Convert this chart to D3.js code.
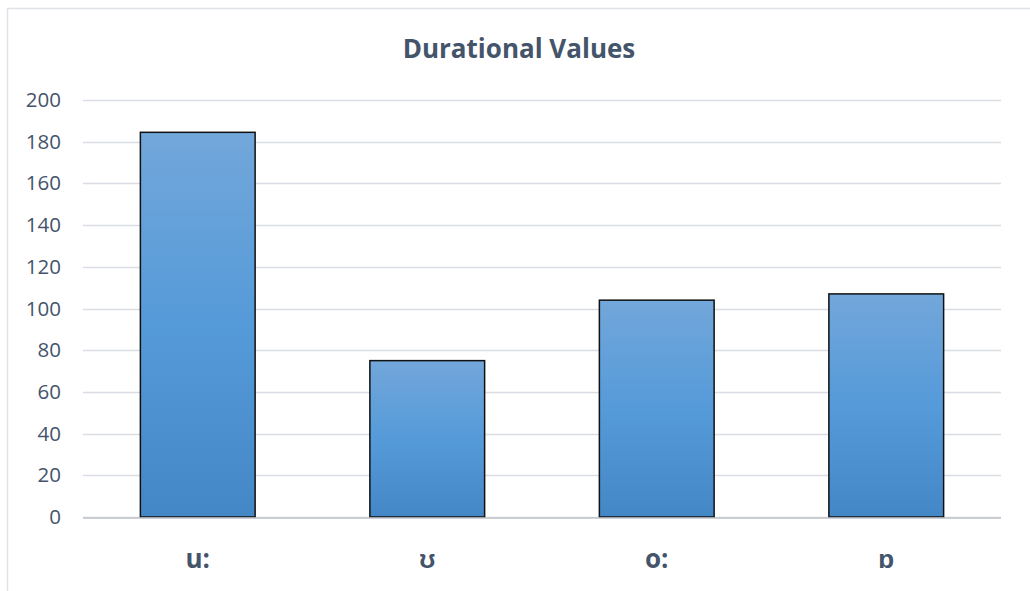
<!DOCTYPE html>
<html>
<head>
<meta charset="utf-8">
<script src="https://cdn.jsdelivr.net/npm/d3@7"></script>
<style>
  body { margin: 0; background: #fff; }
</style>
</head>
<body>
<svg id="chart" width="1030" height="591"></svg>
<script>
var categories = ["u:", "ʊ", "o:", "ɒ"];
var durations = [184.5, 75, 104, 107];
var yTickVals = [0, 20, 40, 60, 80, 100, 120, 140, 160, 180, 200];

var TXT_COL = "#44546a";
var GRID_COL = "#d9dde3";
var FONT = "'Open Sans', 'Liberation Sans', sans-serif";

var svg = d3.select("#chart");

// outer chart frame (cut off at right and bottom like the reference)
svg.append("path")
    .attr("d", "M7.5,600 L7.5,8.5 L1040,8.5")
    .attr("fill", "none")
    .attr("stroke", "#dfe3e8")
    .attr("stroke-width", 1.5);

var plotL = 83, plotR = 1001, plotT = 100, plotB = 517;

var x = d3.scaleBand()
    .domain(categories)
    .range([plotL, plotR])
    .paddingInner(0.5)
    .paddingOuter(0.25);

var y = d3.scaleLinear()
    .domain([0, 200])
    .range([plotB, plotT]);

// gridlines
svg.append("g")
    .selectAll("line")
    .data(yTickVals)
    .enter()
    .append("line")
    .attr("x1", plotL)
    .attr("x2", plotR)
    .attr("y1", d => Math.round(y(d)) + 0.5)
    .attr("y2", d => Math.round(y(d)) + 0.5)
    .attr("stroke", GRID_COL)
    .attr("stroke-width", 1.3);

// y tick labels
var yAxis = d3.axisLeft(y).tickValues(yTickVals).tickSize(0).tickPadding(0);
var gy = svg.append("g")
    .attr("transform", "translate(" + (plotL - 22) + ",0)")
    .call(yAxis);
gy.select(".domain").remove();
gy.selectAll("text")
    .style("font-family", FONT)
    .style("font-size", "20.5px")
    .style("fill", TXT_COL);

// bar gradient
var defs = svg.append("defs");
var grad = defs.append("linearGradient")
    .attr("id", "barGrad")
    .attr("x1", 0).attr("y1", 0).attr("x2", 0).attr("y2", 1);
grad.append("stop").attr("offset", "0%").attr("stop-color", "#72a7da");
grad.append("stop").attr("offset", "50%").attr("stop-color", "#559ad9");
grad.append("stop").attr("offset", "100%").attr("stop-color", "#4487c6");

// bars
svg.append("g")
    .selectAll("rect")
    .data(durations)
    .enter()
    .append("rect")
    .attr("x", (d, i) => x(categories[i]))
    .attr("y", d => y(d))
    .attr("width", x.bandwidth())
    .attr("height", d => y(0) - y(d))
    .attr("fill", "url(#barGrad)")
    .attr("stroke", "#111")
    .attr("stroke-width", 1.5);

// axis line at zero
svg.append("line")
    .attr("x1", plotL)
    .attr("x2", plotR)
    .attr("y1", y(0) + 1)
    .attr("y2", y(0) + 1)
    .attr("stroke", "#bfc3c8")
    .attr("stroke-width", 1.3);

// category labels
var xAxis = d3.axisBottom(x).tickSize(0).tickPadding(0);
var gx = svg.append("g")
    .attr("transform", "translate(0,568)")
    .call(xAxis);
gx.select(".domain").remove();
gx.selectAll("text")
    .attr("dy", "0")
    .style("font-family", FONT)
    .style("font-size", "26px")
    .style("font-weight", "bold")
    .style("fill", TXT_COL);

// title
svg.append("text")
    .attr("x", 519)
    .attr("y", 58)
    .attr("text-anchor", "middle")
    .style("font-family", FONT)
    .style("font-size", "26px")
    .style("font-weight", "bold")
    .style("fill", TXT_COL)
    .text("Durational Values");
</script>
</body>
</html>
